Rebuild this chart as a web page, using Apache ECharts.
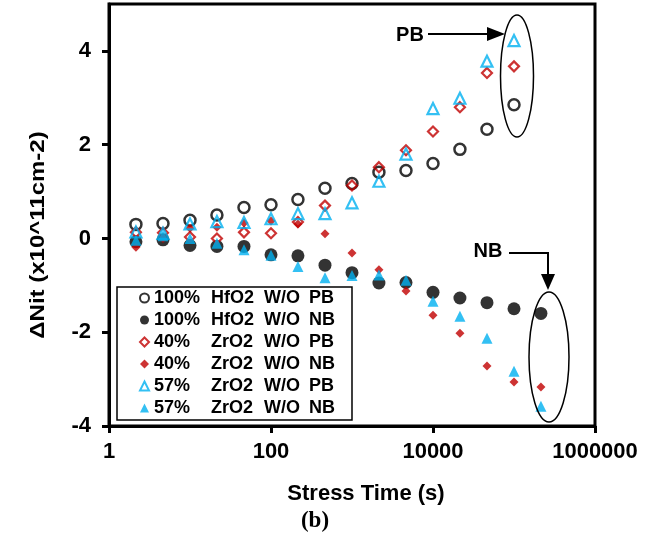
<!DOCTYPE html>
<html>
<head>
<meta charset="utf-8">
<script src="https://cdn.jsdelivr.net/npm/echarts@6/dist/echarts.min.js"></script>
<style>html,body{margin:0;padding:0;background:#fff;}#c{width:658px;height:545px;}</style>
</head>
<body>
<div id="c"></div>
<script>
// Stress times (s)
const tPB = [2.15, 4.64, 10, 21.5, 46.4, 100, 215, 464, 1000, 2150, 4640, 10000, 21500, 46400, 100000];
const tNB = [2.15, 4.64, 10, 21.5, 46.4, 100, 215, 464, 1000, 2150, 4640, 10000, 21500, 46400, 100000, 215000];
// ΔNit (x10^11 cm-2)
const hfPB  = [0.30, 0.32, 0.39, 0.50, 0.66, 0.72, 0.83, 1.07, 1.17, 1.41, 1.45, 1.60, 1.90, 2.33, 2.85];
const hfNB  = [-0.07, -0.03, -0.15, -0.17, -0.17, -0.35, -0.37, -0.57, -0.73, -0.95, -0.94, -1.15, -1.27, -1.37, -1.50, -1.60];
const zr40PB = [0.13, 0.12, 0.03, 0.00, 0.13, 0.11, 0.35, 0.70, 1.13, 1.52, 1.88, 2.28, 2.80, 3.53, 3.67];
const zr40NB = [-0.19, 0.00, 0.22, 0.24, 0.33, 0.37, 0.31, 0.10, -0.31, -0.67, -1.12, -1.64, -2.02, -2.72, -3.06, -3.17];
const zr57PB = [0.14, 0.11, 0.31, 0.36, 0.34, 0.42, 0.53, 0.53, 0.76, 1.22, 1.80, 2.77, 2.99, 3.78, 4.22];
const zr57NB = [-0.04, 0.06, 0.00, -0.10, -0.24, -0.36, -0.60, -0.84, -0.79, -0.78, -0.89, -1.34, -1.66, -2.13, -2.83, -3.58];
const seriesNames = ['100% HfO2 W/O PB', '100% HfO2 W/O NB', '40% ZrO2 W/O PB', '40% ZrO2 W/O NB', '57% ZrO2 W/O PB', '57% ZrO2 W/O NB'];
const xTicks = [1, 100, 10000, 1000000];
const yTicks = [-4, -2, 0, 2, 4];

const FONT = "'Liberation Sans', Arial, sans-serif";
const RED = '#C00000', BLUE = '#00B0F0', BLACK = '#000000';

function pairs(t, v) { return t.map((x, i) => [x, v[i]]); }

const chart = echarts.init(document.getElementById('c'), null, {renderer: 'canvas'});

function mk(name, t, v, symbol, size, filled, color, bw) {
  return {
    name: name, type: 'scatter', data: pairs(t, v), symbol: symbol, symbolSize: size,
    itemStyle: filled ? {color: color, borderWidth: 0}
                      : {color: 'rgba(255,255,255,0)', borderColor: color, borderWidth: bw},
    emphasis: {disabled: true}, silent: true
  };
}

const rich = {
  p: {width: 57, fontSize: 18, fontWeight: 'bold', fontFamily: FONT, color: '#000', lineHeight: 22},
  h: {width: 53, fontSize: 18, fontWeight: 'bold', fontFamily: FONT, color: '#000', lineHeight: 22},
  w: {width: 45, fontSize: 18, fontWeight: 'bold', fontFamily: FONT, color: '#000', lineHeight: 22},
  b: {fontSize: 18, fontWeight: 'bold', fontFamily: FONT, color: '#000', lineHeight: 22}
};

chart.setOption({
  animation: false,
  backgroundColor: '#fff',
  grid: {left: 109, right: 63, top: 4, bottom: 119, show: true, borderColor: '#000', borderWidth: 3, backgroundColor: 'transparent'},
  xAxis: {
    type: 'log', logBase: 10, min: 1, max: 1000000, interval: 2,
    axisLine: {show: true, onZero: false, lineStyle: {color: '#000', width: 3}},
    axisTick: {show: true, inside: false, length: 7, lineStyle: {color: '#000', width: 3}, customValues: xTicks},
    axisLabel: {show: true, customValues: xTicks, margin: 15, color: '#000', fontSize: 22, fontWeight: 'bold', fontFamily: FONT,
      formatter: v => String(Math.round(v))},
    splitLine: {show: false}, minorTick: {show: false}, minorSplitLine: {show: false}
  },
  yAxis: {
    type: 'value', min: -4, max: 5, interval: 2,
    axisLine: {show: true, onZero: false, lineStyle: {color: '#000', width: 3}},
    axisTick: {show: true, inside: false, length: 7, lineStyle: {color: '#000', width: 3}, customValues: yTicks},
    axisLabel: {show: true, customValues: yTicks, margin: 18, color: '#000', fontSize: 22, fontWeight: 'bold', fontFamily: FONT,
      formatter: v => (v === 5 ? '' : String(v))},
    splitLine: {show: false}
  },
  legend: {
    show: true, orient: 'vertical', left: 117, top: 287,
    padding: [0, 17, 1, 22], itemGap: 0, itemWidth: 9, itemHeight: 9,
    backgroundColor: '#fff', borderColor: '#000', borderWidth: 1.5, borderRadius: 0,
    selectedMode: false, z: 10,
    data: seriesNames,
    textStyle: {fontSize: 18, fontWeight: 'bold', fontFamily: FONT, color: '#000', lineHeight: 22, rich: rich},
    formatter: function (name) {
      const s = name.split(' ');
      return '{p|' + s[0] + '}{h|' + s[1] + '}{w|' + s[2] + '}{b|' + s[3] + '}';
    }
  },
  series: [
    mk(seriesNames[0], tPB, hfPB, 'circle', 11, false, BLACK, 2.5),
    mk(seriesNames[1], tNB, hfNB, 'circle', 13, true, BLACK, 0),
    mk(seriesNames[2], tPB, zr40PB, 'diamond', 10, false, RED, 2.2),
    mk(seriesNames[3], tNB, zr40NB, 'diamond', 9, true, RED, 0),
    mk(seriesNames[4], tPB, zr57PB, 'triangle', 11, false, BLUE, 2.2),
    mk(seriesNames[5], tNB, zr57NB, 'triangle', 11, true, BLUE, 0)
  ],
  graphic: [
    {type: 'text', x: 38, y: 235, rotation: Math.PI / 2, scaleX: 1.2, z: 20,
      style: {text: 'ΔNit (x10^11cm-2)', font: "bold 20px " + FONT, fill: '#000', align: 'center', verticalAlign: 'middle'}},
    {type: 'text', x: 366, y: 494, z: 20,
      style: {text: 'Stress Time (s)', font: "bold 22px " + FONT, fill: '#000', align: 'center', verticalAlign: 'middle'}},
    {type: 'text', x: 315, y: 521, z: 20,
      style: {text: '(b)', font: "bold 23px 'Liberation Serif', 'Times New Roman', serif", fill: '#000', align: 'center', verticalAlign: 'middle'}},
    {type: 'text', x: 410, y: 35, z: 20,
      style: {text: 'PB', font: "bold 20px " + FONT, fill: '#000', align: 'center', verticalAlign: 'middle'}},
    {type: 'line', z: 20, shape: {x1: 428, y1: 34, x2: 490, y2: 34}, style: {stroke: '#000', lineWidth: 2}},
    {type: 'polygon', z: 20, shape: {points: [[505, 34], [487, 27], [487, 41]]}, style: {fill: '#000'}},
    {type: 'ellipse', z: 20, shape: {cx: 517, cy: 76, rx: 16.5, ry: 61}, style: {fill: 'none', stroke: '#000', lineWidth: 1.5}},
    {type: 'text', x: 488, y: 251, z: 20,
      style: {text: 'NB', font: "bold 20px " + FONT, fill: '#000', align: 'center', verticalAlign: 'middle'}},
    {type: 'polyline', z: 20, shape: {points: [[509, 253], [548, 253], [548, 277]]}, style: {stroke: '#000', lineWidth: 2, fill: 'none'}},
    {type: 'polygon', z: 20, shape: {points: [[548, 290], [541, 274], [555, 274]]}, style: {fill: '#000'}},
    {type: 'ellipse', z: 20, shape: {cx: 549, cy: 357, rx: 20, ry: 65}, style: {fill: 'none', stroke: '#000', lineWidth: 1.5}}
  ]
});
</script>
</body>
</html>
